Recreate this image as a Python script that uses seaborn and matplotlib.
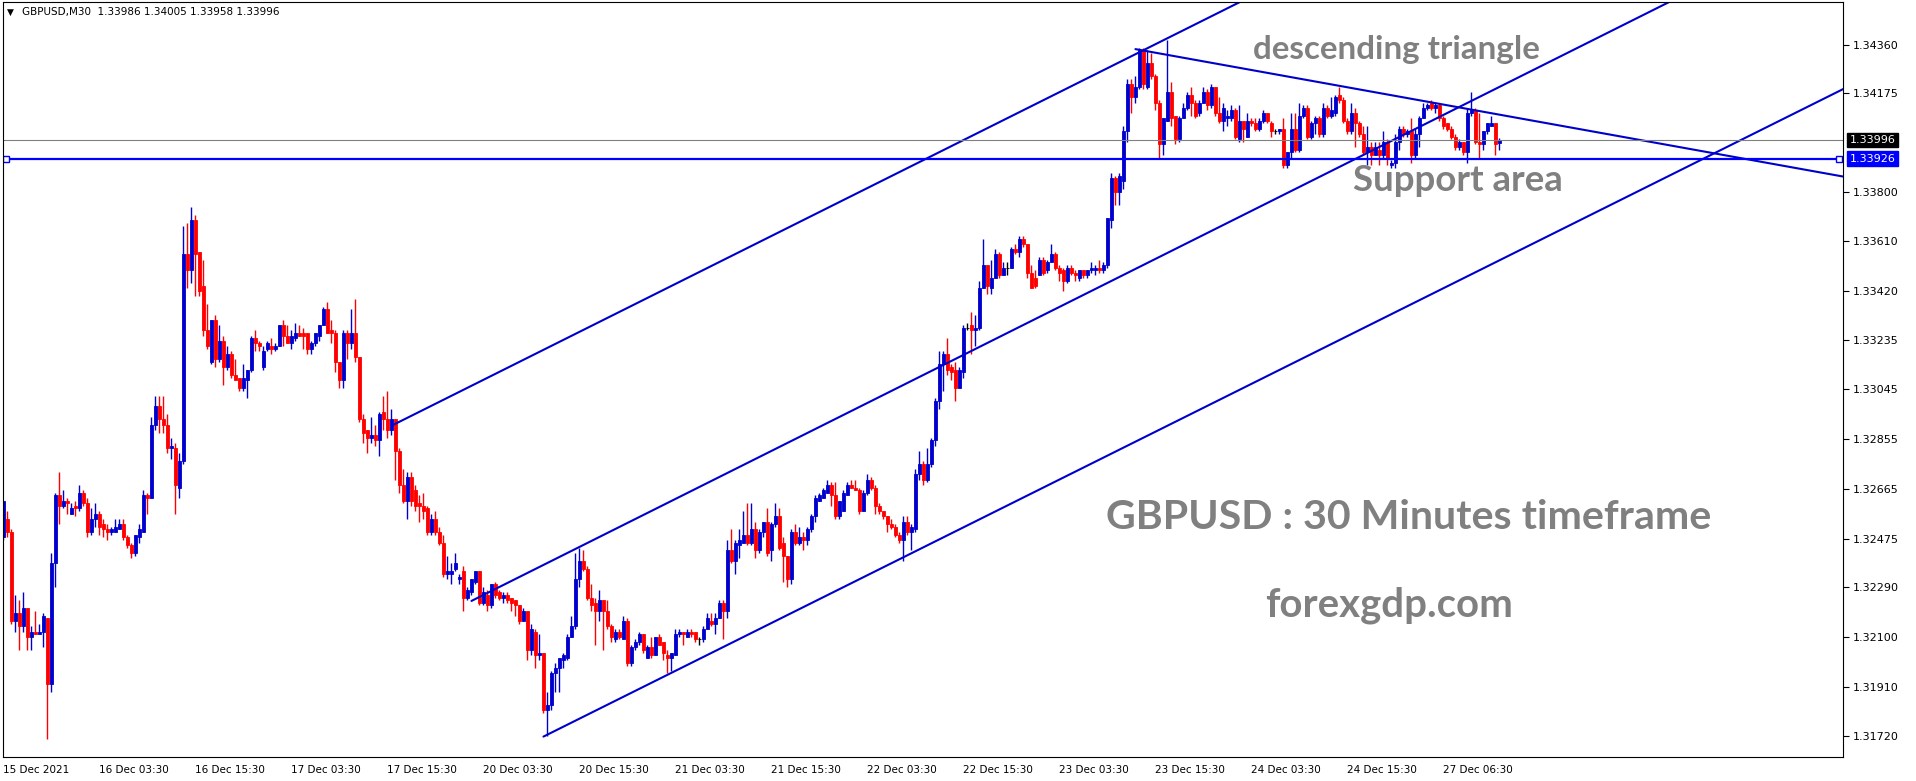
"""
GBPUSD M30 candlestick chart with channel / triangle drawings
"""

import numpy as np
import pandas as pd
import matplotlib
matplotlib.use("Agg")
import matplotlib.pyplot as plt
import seaborn as sns

# bar prices in pips above 1.30000 (one bar = 30 minutes)
opens = [
    248, 255, 250, 216, 219, 214, 221, 210, 212, 211, 212, 217, 192, 238, 264, 260, 262, 257, 260, 259, 265, 261, 250, 255, 257,
    253, 251, 250, 250, 251, 253, 248, 245, 242, 248, 250, 264, 263, 291, 298, 293, 291, 282, 282, 267, 277, 356, 350, 369, 357,
    344, 327, 315, 331, 316, 323, 313, 318, 310, 309, 305, 308, 312, 324, 322, 313, 320, 321, 320, 321, 329, 325, 322, 324, 326,
    326, 326, 320, 322, 325, 329, 335, 327, 326, 315, 308, 326, 322, 326, 317, 293, 289, 286, 287, 285, 296, 293, 289, 293, 281,
    268, 262, 271, 266, 261, 260, 259, 250, 255, 250, 246, 234, 234, 236, 232, 235, 225, 227, 231, 235, 223, 226, 222, 230, 227,
    225, 226, 225, 224, 222, 216, 220, 205, 212, 203, 204, 182, 184, 196, 198, 201, 202, 210, 214, 232, 239, 236, 225, 223, 220,
    224, 220, 214, 209, 212, 209, 216, 200, 206, 208, 211, 202, 206, 203, 210, 208, 203, 202, 203, 211, 212, 210, 212, 212, 209,
    209, 213, 216, 215, 217, 223, 220, 243, 239, 245, 246, 249, 246, 251, 243, 250, 254, 243, 253, 256, 246, 241, 232, 250, 246,
    248, 247, 251, 256, 262, 263, 265, 268, 264, 256, 258, 264, 268, 267, 266, 258, 265, 270, 267, 260, 258, 256, 253, 252, 249,
    247, 254, 250, 251, 272, 276, 270, 276, 285, 300, 314, 318, 313, 312, 305, 311, 328, 329, 327, 328, 343, 352, 343, 347, 356,
    348, 351, 351, 358, 357, 362, 360, 349, 347, 348, 354, 350, 353, 356, 351, 350, 346, 351, 349, 347, 350, 348, 350, 350, 351,
    350, 352, 369, 385, 380, 384, 403, 421, 416, 420, 434, 420, 429, 424, 414, 398, 407, 418, 409, 400, 408, 412, 417, 414, 410,
    414, 418, 413, 420, 410, 407, 408, 408, 411, 400, 407, 401, 407, 406, 404, 407, 410, 406, 403, 403, 404, 390, 395, 404, 396,
    409, 412, 401, 406, 408, 402, 412, 409, 410, 417, 415, 407, 403, 410, 406, 402, 395, 397, 394, 396, 394, 399, 390, 391, 399,
    404, 402, 403, 394, 402, 408, 412, 414, 412, 413, 408, 406, 404, 401, 397, 399, 395, 410, 411, 399, 398, 403, 405, 406, 398.6,
]
highs = [
    262, 258, 251, 226, 224, 227, 221, 214, 220, 215, 219, 217, 242, 265, 273, 266, 263, 261, 262, 268, 266, 263, 259, 261, 258,
    255, 253, 252, 255, 255, 255, 249, 246, 249, 253, 266, 265, 294, 302, 302, 302, 295, 286, 284, 280, 367, 368, 374, 371, 357,
    354, 337, 331, 333, 329, 325, 321, 319, 316, 309, 314, 312, 325, 327, 323, 321, 323, 324, 322, 329, 331, 329, 327, 330, 329,
    328, 326, 323, 326, 329, 336, 338, 331, 327, 315, 327, 327, 335, 339, 317, 295, 289, 294, 291, 296, 302, 304, 297, 293, 282,
    274, 273, 273, 268, 264, 265, 260, 257, 258, 252, 249, 241, 238, 242, 234, 237, 229, 232, 235, 235, 229, 228, 230, 231, 228,
    227, 227, 225, 224, 222, 221, 220, 215, 213, 211, 204, 189, 197, 200, 202, 204, 211, 218, 242, 244, 243, 237, 230, 225, 228,
    224, 224, 215, 213, 213, 218, 217, 207, 209, 212, 211, 207, 210, 210, 211, 208, 205, 204, 213, 213, 212, 213, 213, 212, 210,
    214, 219, 219, 219, 224, 224, 247, 251, 247, 251, 258, 261, 261, 254, 251, 254, 259, 254, 261, 259, 248, 241, 251, 253, 252,
    250, 252, 257, 264, 265, 267, 270, 269, 269, 262, 266, 269, 270, 270, 267, 266, 272, 271, 268, 261, 258, 256, 255, 253, 250,
    256, 256, 253, 274, 281, 277, 282, 286, 301, 319, 319, 324, 314, 315, 313, 329, 330, 334, 333, 346, 362, 352, 354, 358, 357,
    353, 353, 359, 360, 363, 363, 360, 352, 350, 355, 355, 354, 360, 357, 352, 351, 352, 352, 350, 350, 350, 350, 353, 352, 354,
    353, 370, 387, 386, 387, 405, 423, 423, 424, 435, 435, 434, 433, 425, 415, 408, 438, 422, 409, 409, 414, 418, 420, 415, 415,
    420, 419, 421, 420, 416, 414, 411, 413, 412, 413, 407, 410, 408, 408, 408, 411, 410, 407, 404, 404, 408, 395, 410, 410, 414,
    413, 413, 407, 409, 409, 414, 413, 416, 417, 420, 416, 408, 414, 412, 407, 405, 405, 399, 399, 399, 403, 400, 392, 402, 405,
    405, 404, 408, 404, 409, 414, 414, 415, 414, 414, 409, 406, 405, 402, 400, 399, 412, 418, 412, 410, 403, 406, 409, 406, 400.5,
]
lows = [
    247, 248, 215, 212, 205, 212, 205, 205, 211, 211, 206, 171, 189, 229, 253, 259, 257, 257, 256, 258, 260, 248, 249, 252, 249,
    248, 247, 249, 250, 251, 247, 244, 240, 241, 246, 250, 257, 263, 289, 288, 288, 280, 278, 257, 263, 276, 343, 345, 340, 340,
    325, 320, 314, 313, 315, 306, 312, 309, 308, 304, 304, 301, 311, 319, 319, 312, 319, 318, 319, 321, 321, 322, 320, 323, 325,
    320, 318, 318, 321, 323, 329, 326, 322, 311, 305, 305, 316, 320, 315, 292, 284, 280, 284, 283, 279, 289, 286, 287, 270, 265,
    261, 255, 260, 258, 254, 255, 249, 249, 249, 245, 233, 232, 230, 235, 230, 220, 224, 226, 230, 222, 222, 220, 221, 225, 224,
    223, 223, 220, 218, 215, 216, 201, 203, 198, 201, 181, 172, 182, 189, 189, 198, 201, 210, 213, 229, 235, 224, 220, 207, 216,
    205, 213, 208, 208, 209, 209, 199, 199, 205, 207, 204, 202, 202, 203, 207, 201, 196, 197, 203, 210, 207, 210, 210, 208, 207,
    208, 213, 214, 211, 217, 209, 217, 238, 234, 240, 246, 245, 245, 240, 242, 248, 241, 239, 252, 243, 231, 229, 230, 245, 245,
    243, 245, 250, 254, 262, 263, 265, 260, 255, 255, 258, 264, 267, 266, 257, 258, 264, 266, 257, 257, 255, 250, 251, 248, 246,
    239, 249, 243, 250, 270, 268, 269, 275, 283, 297, 304, 310, 308, 300, 305, 309, 327, 318, 321, 327, 343, 341, 341, 347, 347,
    348, 348, 351, 356, 355, 359, 347, 343, 343, 348, 348, 349, 353, 350, 346, 342, 345, 348, 346, 346, 347, 347, 349, 348, 349,
    349, 351, 366, 375, 375, 381, 399, 410, 414, 419, 419, 419, 423, 411, 393, 394, 407, 405, 398, 399, 408, 411, 409, 408, 409,
    414, 411, 412, 409, 406, 403, 405, 407, 400, 399, 399, 401, 405, 403, 403, 406, 406, 401, 402, 402, 389, 389, 393, 395, 395,
    408, 400, 400, 402, 401, 401, 408, 408, 409, 414, 406, 402, 402, 397, 401, 394, 390, 390, 394, 390, 393, 390, 389, 389, 396,
    401, 401, 391, 393, 397, 408, 411, 411, 410, 407, 404, 403, 400, 396, 396, 394, 391, 409, 398, 393, 396, 402, 405, 394, 395.8,
]
closes = [
    262, 250, 216, 219, 214, 221, 210, 212, 211, 212, 218, 192, 238, 264, 260, 262, 261, 259, 259, 265, 261, 250, 255, 257, 252,
    251, 250, 251, 252, 253, 248, 245, 242, 249, 251, 264, 263, 291, 298, 293, 291, 282, 283, 268, 277, 356, 350, 369, 356, 342,
    327, 321, 331, 316, 323, 313, 318, 310, 308, 305, 309, 312, 324, 322, 321, 319, 322, 320, 321, 329, 325, 322, 325, 326, 325,
    325, 320, 322, 326, 329, 335, 326, 326, 315, 308, 326, 322, 326, 317, 293, 288, 286, 287, 285, 295, 293, 289, 293, 281, 268,
    262, 271, 262, 260, 260, 258, 250, 255, 250, 246, 234, 235, 235, 238, 233, 225, 228, 232, 235, 223, 227, 222, 230, 226, 225,
    226, 224, 223, 222, 216, 220, 205, 213, 203, 204, 182, 184, 196, 198, 202, 203, 210, 214, 232, 239, 236, 225, 222, 220, 224,
    220, 214, 210, 212, 210, 216, 200, 206, 208, 211, 205, 206, 203, 210, 207, 204, 202, 204, 211, 212, 211, 212, 211, 209, 209,
    213, 217, 215, 217, 223, 220, 243, 239, 246, 247, 249, 246, 251, 243, 250, 254, 242, 253, 256, 244, 241, 232, 250, 246, 248,
    247, 251, 256, 263, 264, 266, 268, 264, 256, 262, 265, 268, 267, 266, 258, 265, 270, 267, 260, 258, 256, 253, 252, 249, 247,
    254, 250, 252, 272, 276, 270, 276, 285, 300, 314, 318, 312, 311, 305, 312, 328, 328, 327, 328, 343, 352, 344, 347, 356, 348,
    351, 351, 358, 357, 362, 360, 349, 343, 344, 354, 349, 353, 356, 351, 349, 346, 351, 349, 348, 350, 348, 350, 351, 351, 350,
    352, 370, 385, 380, 386, 403, 421, 416, 420, 434, 421, 429, 424, 414, 398, 408, 418, 408, 400, 408, 412, 417, 414, 409, 414,
    418, 413, 420, 410, 407, 412, 409, 411, 401, 407, 404, 407, 406, 404, 407, 410, 407, 403, 403, 404, 390, 395, 404, 396, 409,
    412, 401, 406, 408, 402, 412, 409, 411, 416, 415, 407, 403, 410, 406, 402, 395, 397, 394, 397, 394, 399, 393, 391, 399, 404,
    402, 403, 394, 402, 408, 412, 413, 412, 413, 408, 405, 404, 401, 397, 399, 395, 410, 411, 399, 398, 403, 406, 406, 398, 399.6,
]

date_bars = [0, 24, 48, 72, 96, 120, 144, 168, 192, 216, 240, 264, 288, 312, 336, 360]
date_labels = ["15 Dec 2021", "16 Dec 03:30", "16 Dec 15:30", "17 Dec 03:30", "17 Dec 15:30",
               "20 Dec 03:30", "20 Dec 15:30", "21 Dec 03:30", "21 Dec 15:30", "22 Dec 03:30",
               "22 Dec 15:30", "23 Dec 03:30", "23 Dec 15:30", "24 Dec 03:30", "24 Dec 15:30",
               "27 Dec 06:30"]
price_ticks = ["1.34360", "1.34175", "1.33800", "1.33610", "1.33420", "1.33235", "1.33045",
               "1.32855", "1.32665", "1.32475", "1.32290", "1.32100", "1.31910", "1.31720"]

# drawings on the chart: two anchor points (bar, pips) each, extended to the right
upper_channel = [(97.4, 290.9), (174.1, 349.4)]
middle_channel = [(117.0, 223.7), (199.1, 286.4)]
lower_channel = [(135.0, 171.9), (229.1, 243.5)]
triangle_top = [(283.0, 434.4), (399.0, 402.5)]
support_price = 1.33926
bid_price = 1.33996
header = "GBPUSD,M30  1.33986 1.34005 1.33958 1.33996"

BULL = "#0000cd"
BEAR = "#ff0000"
LINE = "#0000cd"
HLINE = "#0000ff"
NOTE = "#808080"


def to_price(pips):
    return 1.3 + np.asarray(pips, dtype=float) / 10000


df = pd.DataFrame({"open": to_price(opens), "high": to_price(highs),
                   "low": to_price(lows), "close": to_price(closes)})
df["bar"] = np.arange(len(df))

sns.set_style("white")
plt.rcParams["font.family"] = ["DejaVu Sans"]

fig = plt.figure(figsize=(19.16, 7.81), dpi=100)
ax = fig.add_axes([0.0014, 0.0307, 0.9605, 0.9661])

# candles
colors = np.where(df["close"] > df["open"], BULL,
                  np.where(df["close"] < df["open"], BEAR, "black"))
ax.vlines(df["bar"], df["low"], df["high"], colors=colors, linewidth=1.0)
ax.bar(df["bar"], (df["close"] - df["open"]).abs(), bottom=df[["open", "close"]].min(axis=1),
       width=0.75, color=colors, edgecolor=colors, linewidth=0.6)


def ray(points, color):
    (x1, y1), (x2, y2) = points
    k = (y2 - y1) / (x2 - x1)
    xs = np.array([x1, 470.0])
    sns.lineplot(x=xs, y=to_price(y1 + k * (xs - x1)), ax=ax, color=color, linewidth=1.5)


for pts in (upper_channel, middle_channel, lower_channel, triangle_top):
    ray(pts, LINE)

ax.axhline(bid_price, color="#808080", linewidth=0.8)
ax.axhline(support_price, color=HLINE, linewidth=1.6)
ax.plot([0.002, 0.998], [support_price, support_price], ls="none", marker="s", ms=4,
        mfc="white", mec=HLINE, mew=1.0, transform=ax.get_yaxis_transform())

ax.set_xlim(-0.2, 459.9)
ax.set_ylim(1.31641, 1.34522)

ax.yaxis.tick_right()
ax.set_yticks([float(t) for t in price_ticks], price_ticks)
ax.set_xticks(date_bars, date_labels)
for lab in ax.get_xticklabels():
    lab.set_ha("left")
ax.tick_params(axis="y", direction="out", length=4, width=0.8, labelsize=8, pad=3, colors="black")
ax.tick_params(axis="x", direction="out", length=3, width=0.8, labelsize=7.5, pad=2.5, colors="black")
for s in ax.spines.values():
    s.set_visible(True)
    s.set_color("black")
    s.set_linewidth(0.8)

# price boxes on the right axis
for price, face in ((bid_price, "black"), (support_price, HLINE)):
    ax.text(1.0035, price, f"{price:.5f}", transform=ax.get_yaxis_transform(), ha="left",
            va="center", fontsize=8, color="white",
            bbox=dict(boxstyle="square,pad=0.2", fc=face, ec=face))

# header
fig.text(0.0037, 0.984, "\u25bc", fontsize=6.5, va="center", color="black")
fig.text(0.0113, 0.984, header, fontsize=7.5, va="center", color="black")

# chart notes (x, y in axes fraction, target width in px)
notes = [("descending triangle", 0.6794, 0.9250, 287),
         ("Support area", 0.7338, 0.7500, 210),
         ("GBPUSD : 30 Minutes timeframe", 0.5995, 0.3020, 605),
         ("forexgdp.com", 0.6859, 0.1860, 247)]
placed = []
for text, x, y, w in notes:
    t = ax.text(x, y, text, transform=ax.transAxes, ha="left", va="baseline",
                fontsize=24, family="Lato", fontweight="bold", color=NOTE)
    placed.append((t, w))

fig.canvas.draw()
renderer = fig.canvas.get_renderer()
for t, w in placed:
    t.set_fontsize(t.get_fontsize() * w / t.get_window_extent(renderer).width)

fig.savefig("out.png", dpi=100)
plt.close(fig)
